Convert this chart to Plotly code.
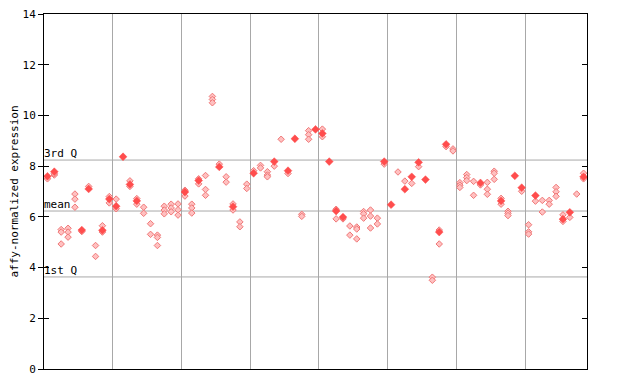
import plotly.graph_objects as go

# ---- data ----
solid_vals = [
    [7.6], [7.78], [], [], [], [5.48], [7.1], [], [5.47], [6.7],
    [6.42], [8.37], [7.28], [6.63], [], [], [], [], [], [],
    [6.98], [], [7.43], [], [], [7.97], [], [6.4], [], [],
    [7.72], [], [], [8.18], [], [7.82], [9.08], [], [], [9.45],
    [9.29], [8.18], [6.23], [5.99], [], [], [], [], [], [8.18],
    [6.48], [], [7.09], [7.58], [8.15], [7.47], [], [5.4], [8.86], [],
    [], [], [], [7.34], [], [], [6.63], [], [7.62], [7.15],
    [], [6.84], [], [], [], [5.91], [6.18], [], [7.58],
]
hatched_vals = [
    [7.5], [7.65, 7.7], [5.5, 5.4, 4.93], [5.55, 5.4, 5.2], [6.9, 6.7, 6.38],
    [5.42], [7.2], [4.87, 4.44], [5.65, 5.4], [6.8, 6.55],
    [6.7, 6.32], [], [7.42, 7.2], [6.72, 6.5], [6.38, 6.14],
    [5.73, 5.31], [5.28, 5.19, 4.87], [6.42, 6.27, 6.12], [6.5, 6.35, 6.2], [6.51, 6.28, 6.07],
    [7.05, 6.82], [6.5, 6.35, 6.15], [7.5, 7.3], [7.63, 7.08, 6.85], [10.75, 10.63, 10.5],
    [8.08], [7.58, 7.37], [6.51, 6.27], [5.8, 5.61], [7.29, 7.12],
    [7.82], [8.03, 7.93], [7.78, 7.65, 7.58], [8.0], [9.06],
    [7.71], [], [6.1, 6.02], [9.4, 9.24, 9.06], [],
    [9.46, 9.16], [], [6.3, 5.92], [5.92], [5.64, 5.28],
    [5.6, 5.52, 5.13], [6.21, 6.12, 5.95], [6.27, 6.03, 5.56], [5.95, 5.72], [8.08],
    [], [7.77], [7.41], [7.32], [7.98],
    [], [3.62, 3.5], [5.48, 4.93], [8.77], [8.68, 8.6],
    [7.35, 7.25, 7.16], [7.67, 7.55, 7.43], [7.4, 6.85], [7.26], [7.36, 7.09, 6.89],
    [7.8, 7.72, 7.48], [6.73, 6.5], [6.22, 6.14, 6.05], [], [7.01],
    [5.69, 5.41, 5.32], [6.62], [6.65, 6.19], [6.65, 6.5], [7.16, 6.99, 6.81],
    [6.08, 5.82], [5.98], [6.9], [7.72, 7.5],
]
n_samples = len(solid_vals)
group_bounds = [10, 20, 30, 40, 50, 60, 70]
y_ticks = [0, 2, 4, 6, 8, 10, 12, 14]
q3_value = 8.24
mean_value = 6.23
q1_value = 3.63
ref_lines = [(q3_value, "3rd Q"), (mean_value, "mean"), (q1_value, "1st Q")]
y_title = "affy-normalized expression"

FONT = "DejaVu Sans Mono"

def flatten(vals):
    xs, ys = [], []
    for i, v in enumerate(vals):
        for y in v:
            xs.append(i + 0.5)
            ys.append(y)
    return xs, ys

hx, hy = flatten(hatched_vals)
sx, sy = flatten(solid_vals)

fig = go.Figure()
fig.add_trace(go.Scatter(
    x=hx, y=hy, mode="markers", hoverinfo="skip",
    marker=dict(symbol="diamond", size=5, color="#ffc0c0",
                line=dict(color="#f07878", width=1)),
))
fig.add_trace(go.Scatter(
    x=sx, y=sy, mode="markers", hoverinfo="skip",
    marker=dict(symbol="diamond", size=6, color="#ff4d4d",
                line=dict(color="#ff4d4d", width=0.5)),
))
# invisible trace to activate overlay axis for inner ticks
fig.add_trace(go.Scatter(x=[None], y=[None], yaxis="y2", showlegend=False, hoverinfo="skip"))

for yv, label in ref_lines:
    fig.add_shape(type="line", xref="paper", x0=0, x1=1, yref="y", y0=yv, y1=yv,
                  line=dict(color="#a8a8a8", width=1), layer="below")
    fig.add_annotation(xref="paper", x=0, xanchor="left", yref="y", y=yv, yanchor="bottom",
                       text=label, showarrow=False, yshift=-2, xshift=-2,
                       font=dict(family=FONT, size=11, color="black"))

fig.update_layout(
    width=640, height=384,
    margin=dict(l=36, r=61, t=6, b=23, autoexpand=False),
    paper_bgcolor="white", plot_bgcolor="white",
    showlegend=False,
    xaxis=dict(range=[0, n_samples], tickvals=group_bounds, showticklabels=False,
               ticks="", showgrid=True, gridcolor="#a8a8a8", gridwidth=1, automargin=False,
               zeroline=False, showline=True, linecolor="black", linewidth=1, mirror=True),
    yaxis=dict(range=[0, 14], tickvals=y_ticks, ticks="outside", ticklen=5,
               tickcolor="black", showgrid=False, zeroline=False, automargin=False,
               ticklabeloverflow="allow",
               showline=True, linecolor="black", linewidth=1, mirror=True,
               tickfont=dict(family=FONT, size=11, color="black"),
               title=dict(text=y_title, font=dict(family=FONT, size=11, color="black"), standoff=8)),
    yaxis2=dict(range=[0, 14], tickvals=y_ticks, overlaying="y", side="left",
                ticks="inside", ticklen=5, tickcolor="black", mirror="ticks", automargin=False,
                showticklabels=False, showgrid=False, zeroline=False, showline=False),
)

fig.write_html("out.html")
